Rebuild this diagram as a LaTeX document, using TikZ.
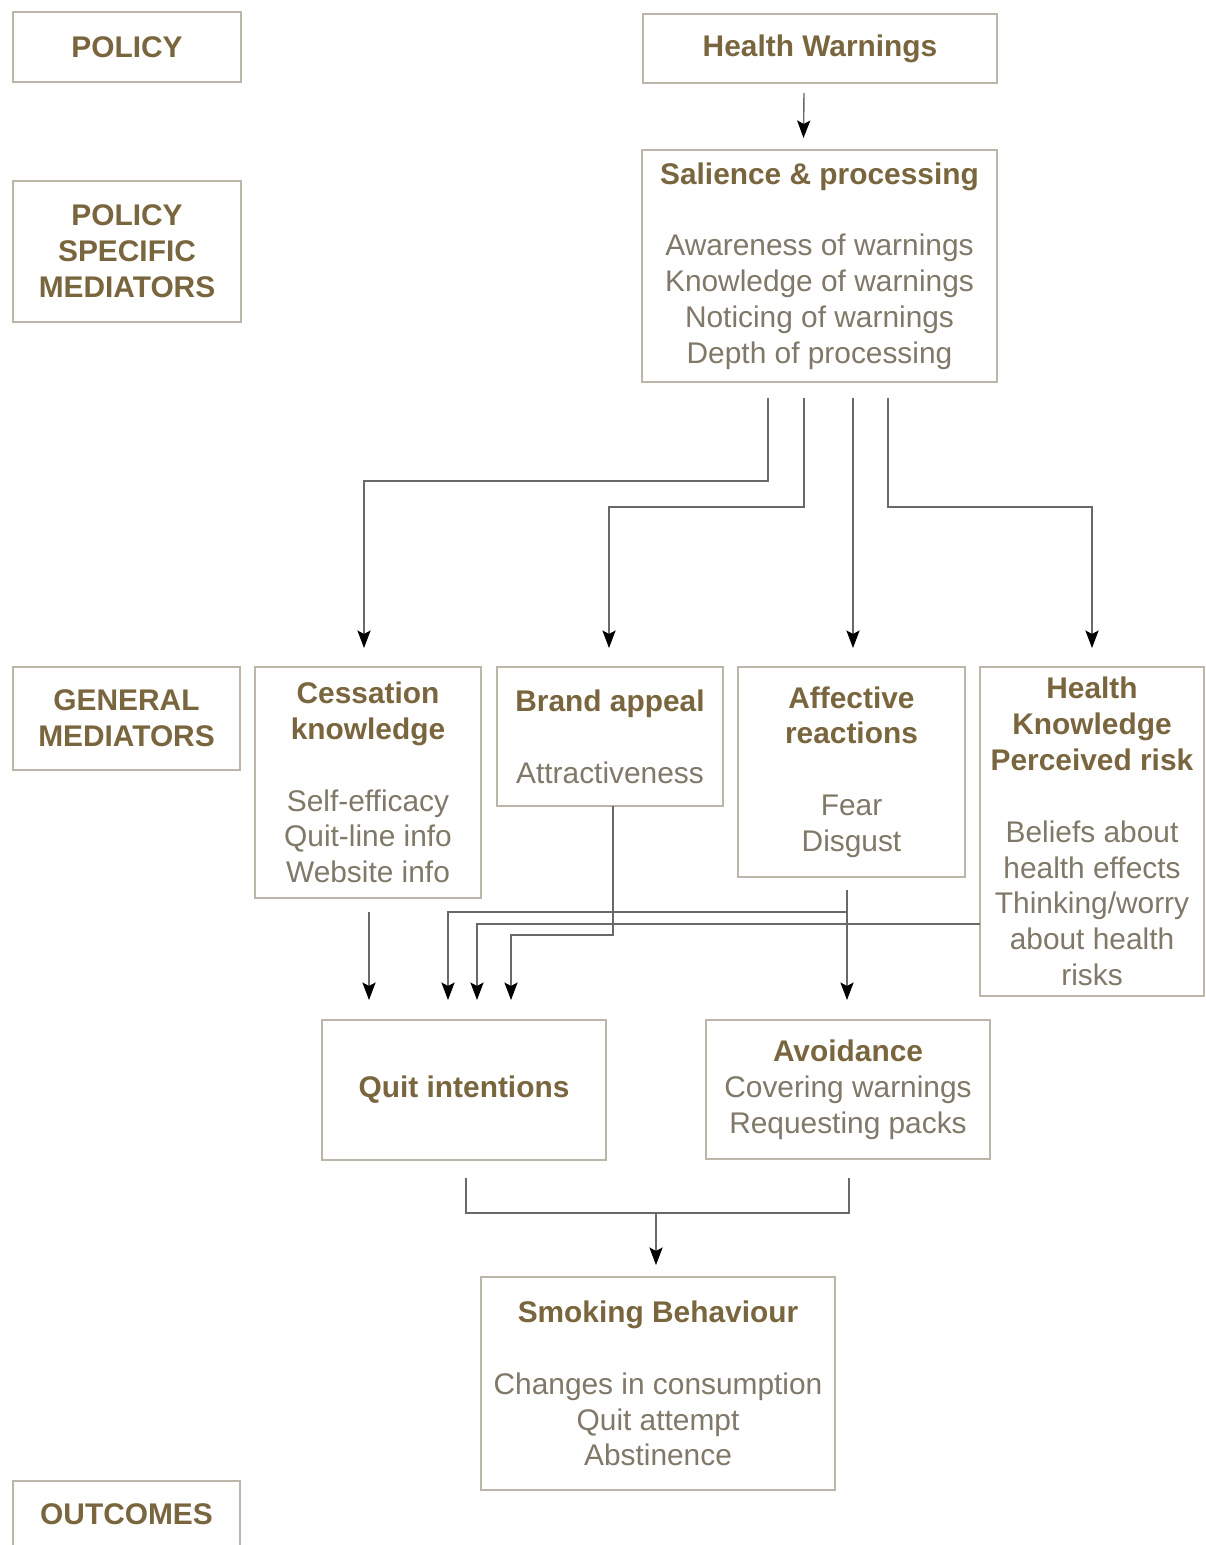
\documentclass[tikz,border=0pt]{standalone}
\usepackage{fontspec}
\setmainfont{Liberation Sans}
\usetikzlibrary{arrows.meta,calc}
\definecolor{headcol}{RGB}{122,102,62}
\definecolor{bodycol}{RGB}{128,120,104}
\definecolor{boxcol}{RGB}{188,182,170}
\definecolor{linecol}{RGB}{105,105,105}
\newcommand{\hd}[1]{{\bfseries\color{headcol}#1}}
\tikzset{>={Stealth[length=10pt,width=7.5pt,inset=2pt,color=black]},
  box/.style={draw=boxcol,line width=1pt,inner sep=0pt,outer sep=0pt,align=center,
    text=bodycol,font=\fontsize{17}{20.4}\selectfont},
  lab/.style={box,text=headcol,font=\fontsize{17}{20.4}\selectfont\bfseries},
  link/.style={draw=linecol,line width=0.8pt},
  conn/.style={link,->}
}

\begin{document}
\begin{tikzpicture}[x=0.02cm,y=-0.02cm]
  \fill[white] (0,0) rectangle (1205,1545);
  \useasboundingbox (0,0) rectangle (1205,1545);
  % levels
  \node[lab,minimum width=4.56cm,minimum height=1.40cm] (pol) at (127,47) {POLICY};
  \node[lab,minimum width=4.56cm,minimum height=2.82cm] (psm) at (127,251.5) {POLICY\\SPECIFIC\\MEDIATORS};
  \node[lab,minimum width=4.54cm,minimum height=2.06cm] (gen) at (126.5,718.5) {GENERAL\\MEDIATORS};
  \node[lab,minimum width=4.54cm,minimum height=1.32cm] (out) at (126.5,1514) {OUTCOMES};
  % boxes
  \node[box,minimum width=7.08cm,minimum height=1.38cm] (hw) at (820,48.5) {\hd{Health Warnings}};
  \node[box,minimum width=7.10cm,minimum height=4.64cm] (sal) at (819.5,266)
    {\hd{Salience \& processing}\\[20.4pt]Awareness of warnings\\Knowledge of warnings\\Noticing of warnings\\Depth of processing};
  \node[box,minimum width=4.52cm,minimum height=4.62cm] (ces) at (368,782.5)
    {\hd{Cessation}\\\hd{knowledge}\\[20.4pt]Self-efficacy\\Quit-line info\\Website info};
  \node[box,minimum width=4.52cm,minimum height=2.78cm] (bra) at (610,736.5)
    {\hd{Brand appeal}\\[20.4pt]Attractiveness};
  \node[box,minimum width=4.54cm,minimum height=4.20cm] (aff) at (851.5,772)
    {\hd{Affective}\\\hd{reactions}\\[20.4pt]Fear\\Disgust};
  \node[box,minimum width=4.48cm,minimum height=6.58cm] (hea) at (1092,831.5)
    {\hd{Health}\\\hd{Knowledge}\\\hd{Perceived risk}\\[20.4pt]Beliefs about\\health effects\\Thinking/worry\\about health\\risks};
  \node[box,minimum width=5.68cm,minimum height=2.80cm] (qui) at (464,1090) {\hd{Quit intentions}};
  \node[box,minimum width=5.68cm,minimum height=2.78cm] (avo) at (848,1089.5)
    {\hd{Avoidance}\\Covering warnings\\Requesting packs};
  \node[box,minimum width=7.08cm,minimum height=4.26cm] (smo) at (658,1383.5)
    {\hd{Smoking Behaviour}\\[20.4pt]Changes in consumption\\Quit attempt\\Abstinence};
  % policy to specific mediators
  \draw[conn] ($(hw.south)+(-16,10)$) -- ($(sal.north)+(-16,-12)$);
  % specific to general mediators
  \draw[conn] ($(sal.south)+(-51.5,16)$) -- ++(0,83) -| ($(ces.north)+(-4,-19)$);
  \draw[conn] ($(sal.south)+(-15.5,16)$) -- ++(0,109) -| ($(bra.north)+(-1,-19)$);
  \draw[conn] ($(sal.south -| aff.north)+(1.5,16)$) -- ($(aff.north)+(1.5,-19)$);
  \draw[conn] ($(sal.south)+(68.5,16)$) -- ++(0,109) -| ($(hea.north)+(0,-19)$);
  % general mediators to outcomes
  \draw[conn] ($(ces.south)+(1,14)$) -- ($(ces.south |- qui.north)+(1,-20)$);
  \draw[conn] ($(bra.south)+(3,0)$) |- ($(qui.north)+(47,-85)$) -- ($(qui.north)+(47,-20)$);
  \draw[conn] ($(aff.south)+(-4.5,13)$) -- ($(avo.north)+(-1,-20)$);
  \draw[conn] ($(aff.south)+(-4.5,35)$) -| ($(qui.north)+(-16,-20)$);
  \draw[conn] ($(hea.west)+(0,92.5)$) -| ($(qui.north)+(13,-20)$);
  \draw[link] ($(qui.south)+(2,18)$) |- ($(avo.south)+(1,54)$) -- ($(avo.south)+(1,19)$);
  \draw[conn] ($(smo.north)+(-2,-64)$) -- ($(smo.north)+(-2,-12)$);
\end{tikzpicture}
\end{document}
